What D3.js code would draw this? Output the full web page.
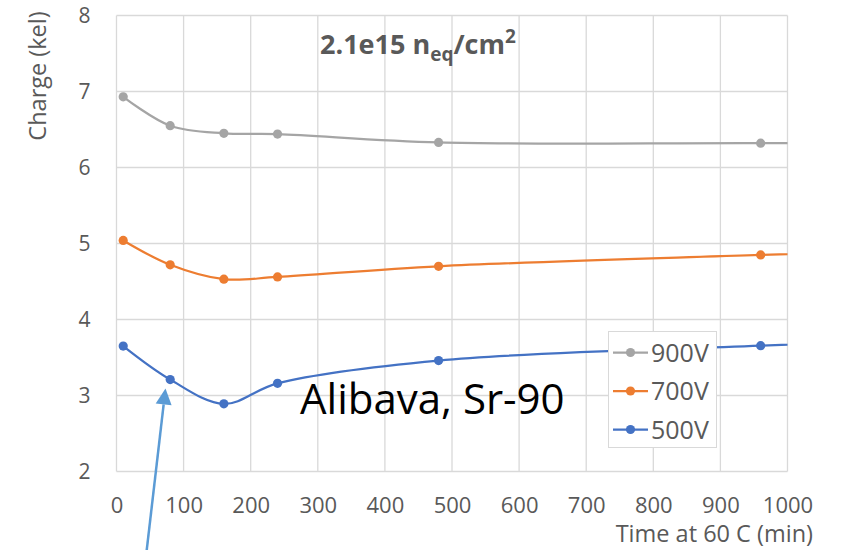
<!DOCTYPE html>
<html>
<head>
<meta charset="utf-8">
<script src="https://cdn.jsdelivr.net/npm/d3@7/dist/d3.min.js"></script>
<style>
  html, body { margin: 0; padding: 0; background: #fff; }
  svg { display: block; font-family: "Open Sans", "Noto Sans", sans-serif; }
</style>
</head>
<body>
<svg id="chart" width="846" height="550"></svg>
<script>
// Annealing time at 60 C (minutes); the last point lies beyond the axis range
const times = [10, 80, 160, 240, 480, 960, 1440];
const charge900 = [6.93, 6.55, 6.45, 6.44, 6.33, 6.32, 6.31];
const charge700 = [5.04, 4.72, 4.53, 4.56, 4.70, 4.85, 4.98];
const charge500 = [3.65, 3.21, 2.89, 3.16, 3.46, 3.655, 3.80];
const seriesNames = ["900V", "700V", "500V"];
const seriesColors = ["#A5A5A5", "#ED7D31", "#4472C4"];
const xTicks = [0, 100, 200, 300, 400, 500, 600, 700, 800, 900, 1000];
const yTicks = [2, 3, 4, 5, 6, 7, 8];

const series = [charge900, charge700, charge500].map((vals, i) => ({
  name: seriesNames[i],
  color: seriesColors[i],
  points: times.map((t, j) => ({ t, v: vals[j] }))
}));

const svg = d3.select("#chart");
const x = d3.scaleLinear().domain([0, 1000]).range([116.5, 787.5]);
const y = d3.scaleLinear().domain([2, 8]).range([471.5, 15.5]);
const grid = "#D9D9D9";
const textCol = "#595959";

// grid
svg.append("g").selectAll("line.v").data(xTicks).join("line")
  .attr("x1", d => x(d)).attr("x2", d => x(d))
  .attr("y1", y(8)).attr("y2", y(2))
  .attr("stroke", grid).attr("stroke-width", 1.3);
svg.append("g").selectAll("line.h").data(yTicks).join("line")
  .attr("x1", x(0)).attr("x2", x(1000))
  .attr("y1", d => y(d)).attr("y2", d => y(d))
  .attr("stroke", grid).attr("stroke-width", 1.3);

// axes (labels only, lines come from the grid)
const xAxis = svg.append("g")
  .attr("transform", `translate(0,${y(2)})`)
  .call(d3.axisBottom(x).tickValues(xTicks).tickSize(0).tickPadding(26).tickFormat(d3.format("d")));
xAxis.select(".domain").remove();
xAxis.selectAll("text").attr("fill", textCol).attr("font-size", 22)
  .attr("font-family", "'Open Sans', sans-serif");

const yAxis = svg.append("g")
  .attr("transform", `translate(${x(0)},0)`)
  .call(d3.axisLeft(y).tickValues(yTicks).tickSize(0).tickPadding(26).tickFormat(d3.format("d")));
yAxis.select(".domain").remove();
yAxis.selectAll("text").attr("fill", textCol).attr("font-size", 21)
  .attr("font-family", "'Open Sans', sans-serif");

// axis titles
svg.append("text")
  .attr("x", 813).attr("y", 542).attr("text-anchor", "end")
  .attr("fill", textCol).attr("font-size", 23.5)
  .text("Time at 60 C (min)");
svg.append("text")
  .attr("transform", "translate(46,76) rotate(-90)")
  .attr("text-anchor", "middle")
  .attr("fill", textCol).attr("font-size", 23.5)
  .text("Charge (kel)");

// chart title
const title = svg.append("text")
  .attr("x", 320).attr("y", 54)
  .attr("fill", textCol).attr("font-size", 27).attr("font-weight", "bold");
title.append("tspan").text("2.1e15 n");
title.append("tspan").attr("font-size", 19).attr("dy", 7).text("eq");
title.append("tspan").attr("dy", -7).text("/cm");
title.append("tspan").attr("font-size", 19).attr("dy", -11).text("2");

// clip region for the data lines
svg.append("clipPath").attr("id", "plotClip")
  .append("rect").attr("x", x(0)).attr("y", y(8) - 10)
  .attr("width", x(1000) - x(0)).attr("height", y(2) - y(8) + 20);

const line = d3.line()
  .x(d => x(d.t)).y(d => y(d.v))
  .curve(d3.curveCatmullRom.alpha(0.5));

const plot = svg.append("g").attr("clip-path", "url(#plotClip)");
series.forEach(s => {
  plot.append("path")
    .datum(s.points)
    .attr("d", line)
    .attr("fill", "none")
    .attr("stroke", s.color)
    .attr("stroke-width", 2.25);
  plot.selectAll(null).data(s.points.filter(p => p.t <= 1000)).join("circle")
    .attr("cx", d => x(d.t)).attr("cy", d => y(d.v))
    .attr("r", 4.6).attr("fill", s.color);
});

// legend
const lg = svg.append("g");
lg.append("rect")
  .attr("x", 608.5).attr("y", 331.5).attr("width", 108).attr("height", 116)
  .attr("fill", "#fff").attr("stroke", grid).attr("stroke-width", 1);
series.forEach((s, i) => {
  const cy = 352.5 + i * 38.5;
  lg.append("line").attr("x1", 613).attr("x2", 648).attr("y1", cy).attr("y2", cy)
    .attr("stroke", s.color).attr("stroke-width", 2.25);
  lg.append("circle").attr("cx", 630.5).attr("cy", cy).attr("r", 4.6).attr("fill", s.color);
  lg.append("text").attr("x", 651).attr("y", cy + 9)
    .attr("fill", textCol).attr("font-size", 25).text(s.name);
});

// annotation
svg.append("text")
  .attr("x", 300).attr("y", 414)
  .attr("fill", "#000").attr("font-size", 42)
  .text("Alibava, Sr-90");

// arrow pointing at the 80 min point
const arrowCol = "#5B9BD5";
const tip = [165.5, 388.5], tail = [146.5, 552];
const ang = Math.atan2(tip[1] - tail[1], tip[0] - tail[0]);
const headLen = 16, headHalf = 8;
const bx = tip[0] - headLen * Math.cos(ang), by = tip[1] - headLen * Math.sin(ang);
svg.append("line")
  .attr("x1", tail[0]).attr("y1", tail[1]).attr("x2", bx).attr("y2", by)
  .attr("stroke", arrowCol).attr("stroke-width", 2.5);
svg.append("path")
  .attr("d", d3.line()([
    tip,
    [bx + headHalf * Math.sin(ang), by - headHalf * Math.cos(ang)],
    [bx - headHalf * Math.sin(ang), by + headHalf * Math.cos(ang)]
  ]) + "Z")
  .attr("fill", arrowCol);
</script>
</body>
</html>
